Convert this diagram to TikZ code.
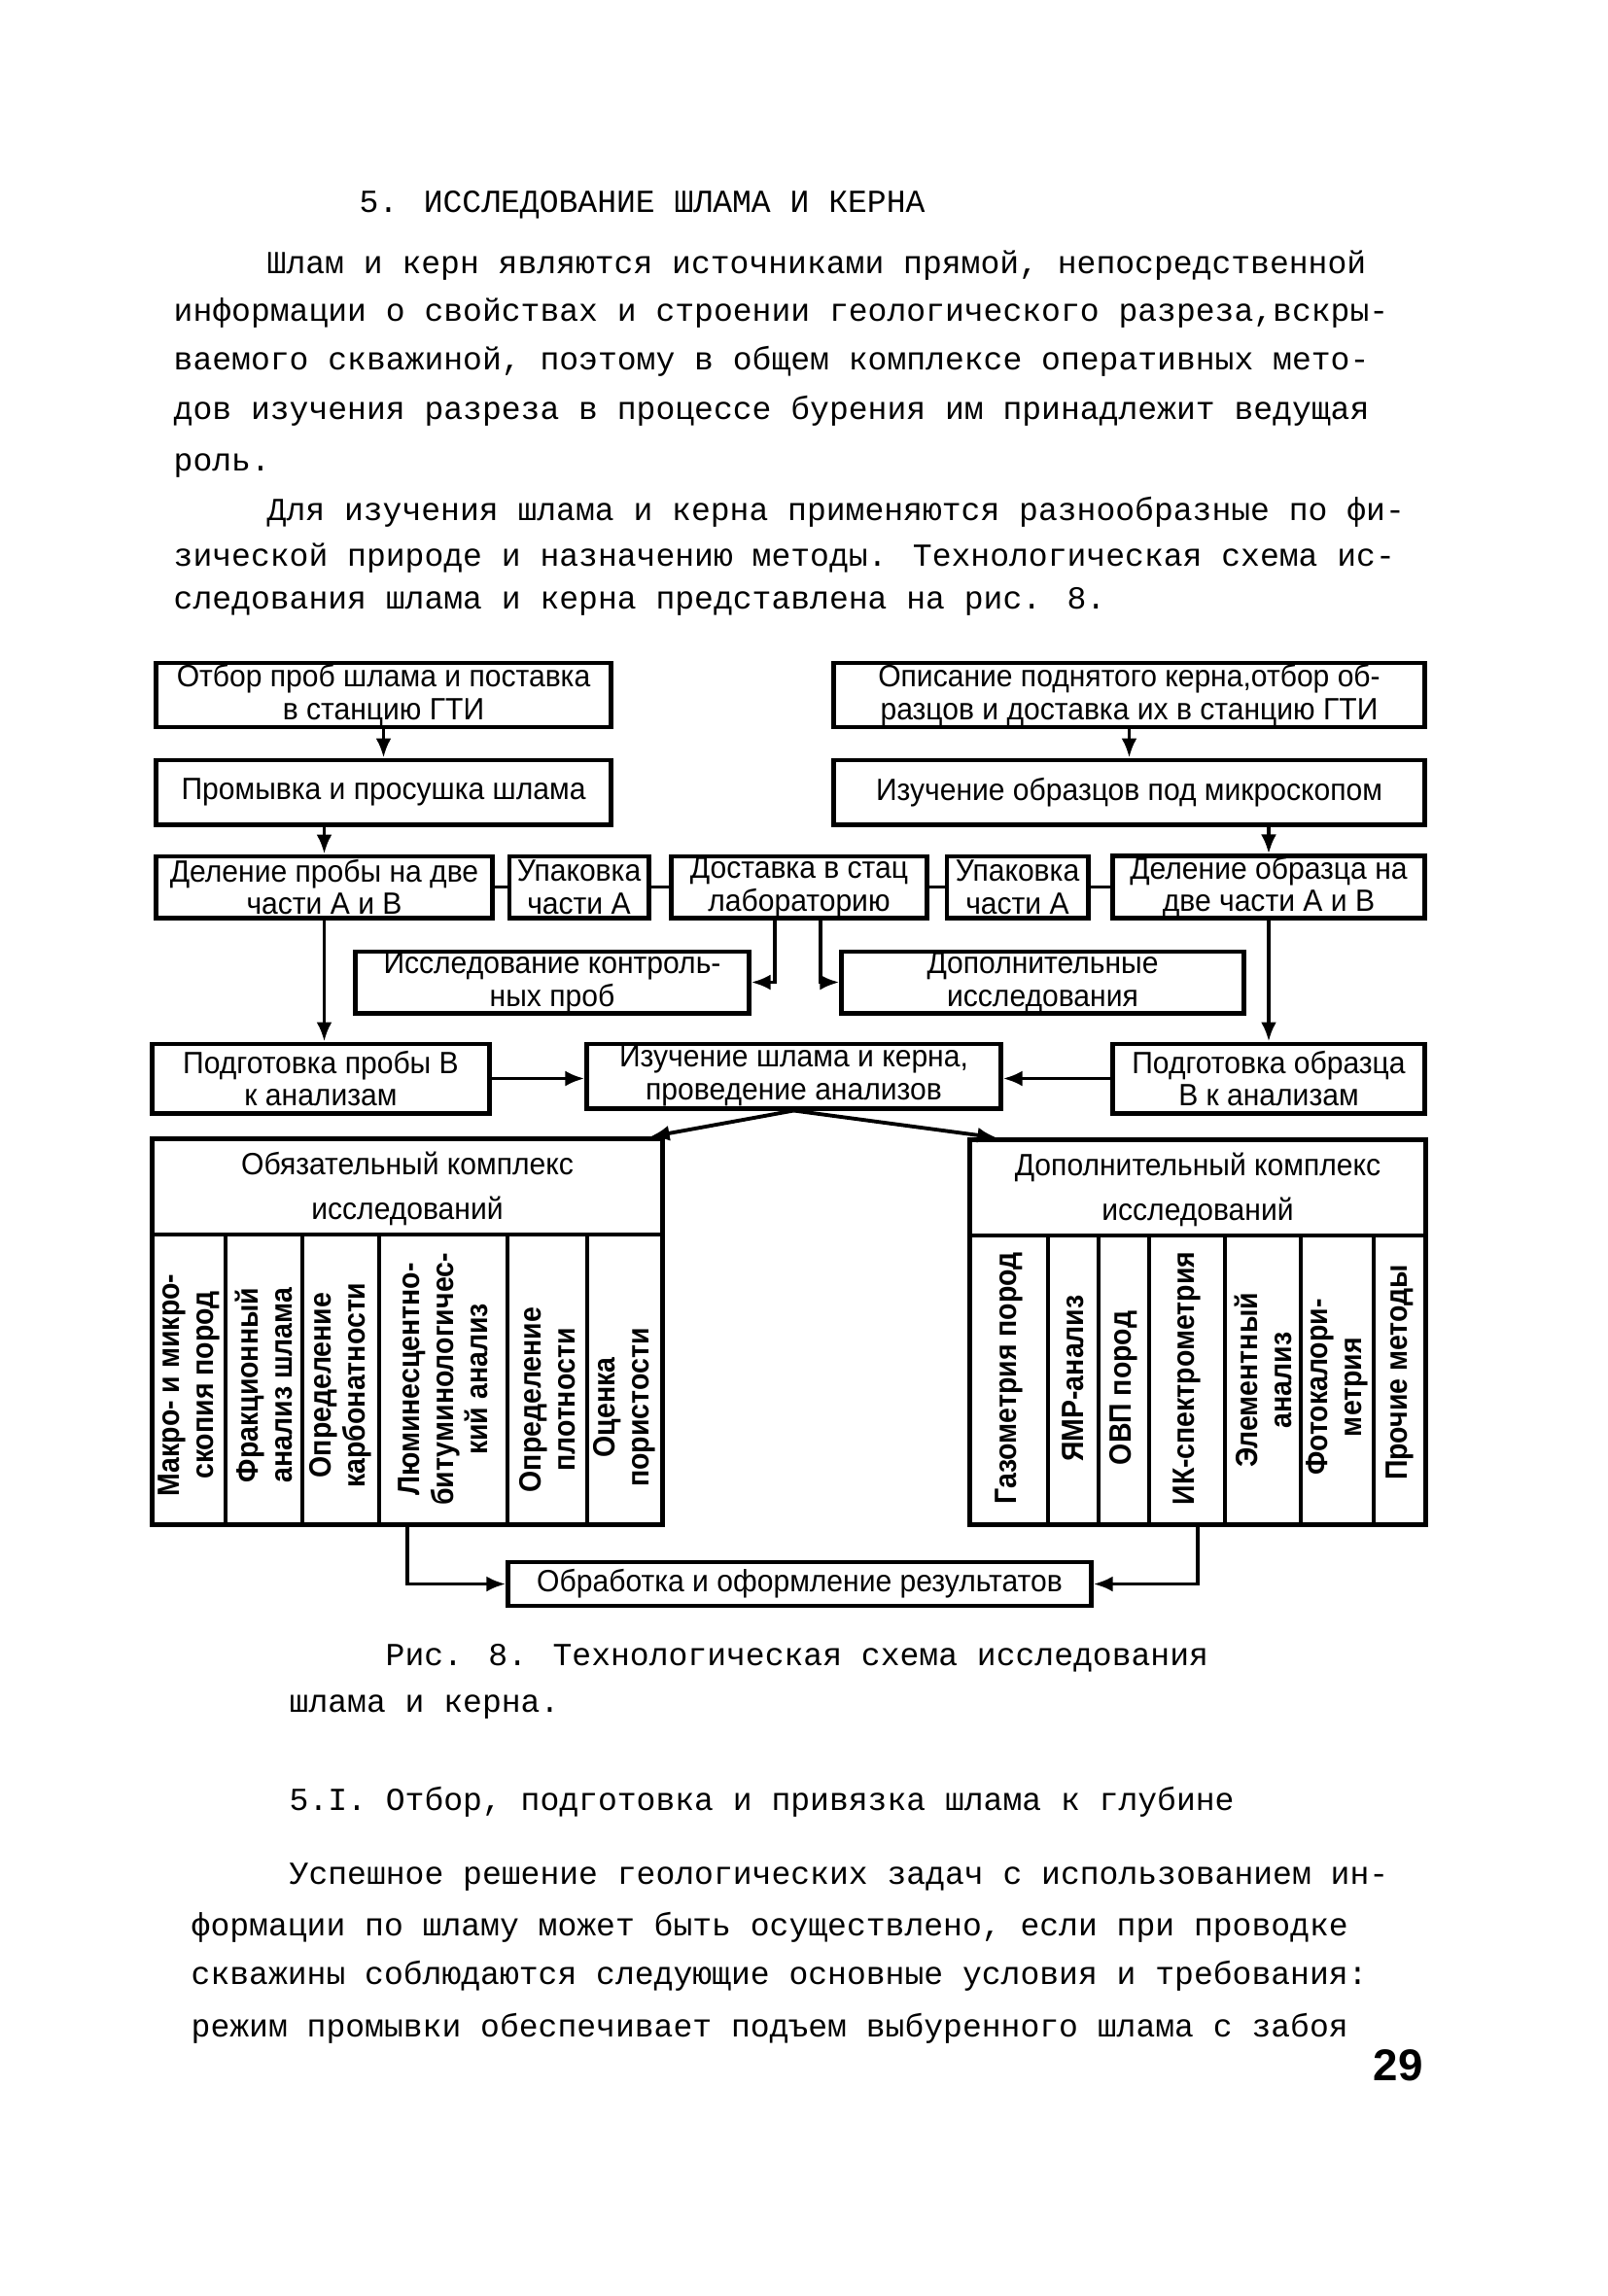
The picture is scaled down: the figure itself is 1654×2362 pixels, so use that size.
\documentclass[tikz,border=0pt]{standalone}
\usepackage{fontspec}
\setmainfont{Liberation Mono}
\newfontfamily\schemefont{Liberation Sans}[FakeStretch=0.95]
\newfontfamily\colfont{Liberation Sans}[FakeStretch=0.9]
\newfontfamily\pagefont{Liberation Sans}
\usetikzlibrary{arrows.meta}
\usetikzlibrary{calc}

\begin{document}
\begin{tikzpicture}[x=0.01cm,y=-0.01cm,
		box/.style={draw,line width=1.4pt,inner sep=0pt,align=center,
			font=\schemefont\fontsize{9pt}{9.6pt}\selectfont},
		title/.style={inner sep=0pt,align=center,
			font=\schemefont\fontsize{9pt}{13pt}\selectfont},
		coltext/.style={rotate=90,inner sep=0pt,align=center,
			font=\colfont\bfseries\fontsize{9pt}{10pt}\selectfont},
		sep/.style={line width=1.4pt},
		link/.style={line width=1.1pt},
		arr/.style={line width=1.1pt,-{Latex[length=2mm,width=1.6mm]}},
		txtline/.style={anchor=west,inner sep=0pt,
			font=\fontsize{9.4pt}{11pt}\selectfont}]
		
		% The page
		\useasboundingbox[fill=white] (0,0) rectangle (1654,2362);
		
		% Heading and opening text
		\node[txtline] (head) at (369,211) {5. ИССЛЕДОВАНИЕ ШЛАМА И КЕРНА};
		\node[txtline] (pa1) at (274,273) {Шлам и керн являются источниками прямой, непосредственной};
		\node[txtline] (pa2) at (178,322) {информации о свойствах и строении геологического разреза,вскры-};
		\node[txtline] (pa3) at (178,372) {ваемого скважиной, поэтому в общем комплексе оперативных мето-};
		\node[txtline] (pa4) at (178,423) {дов изучения разреза в процессе бурения им принадлежит ведущая};
		\node[txtline] (pa5) at (178,479) {роль.};
		\node[txtline] (pb1) at (274,527) {Для изучения шлама и керна применяются разнообразные по фи-};
		\node[txtline] (pb2) at (178,574) {зической природе и назначению методы. Технологическая схема ис-};
		\node[txtline] (pb3) at (178,619) {следования шлама и керна представлена на рис. 8.};
		
		% Sampling of cuttings and core
		\node[box,minimum width=4.67cm,minimum height=0.66cm] (otbor) at (394.5,715) {Отбор проб шлама и поставка\\в станцию ГТИ};
		\node[box,minimum width=6.07cm,minimum height=0.66cm] (opisanie) at (1161.5,715) {Описание поднятого керна,отбор об-\\разцов и доставка их в станцию ГТИ};
		\node[box,minimum width=4.67cm,minimum height=0.66cm] (promyvka) at (394.5,815) {Промывка и просушка шлама};
		\node[box,minimum width=6.07cm,minimum height=0.66cm] (mikroskop) at (1161.5,815) {Изучение образцов под микроскопом};
		
		% Division into parts A and B
		\node[box,minimum width=3.45cm,minimum height=0.63cm] (delProb) at (333.5,912.5) {Деление пробы на две\\части А и В};
		\node[box,minimum width=1.43cm,minimum height=0.63cm] (upakL) at (595.5,912.5) {Упаковка\\части А};
		\node[box,minimum width=2.62cm,minimum height=0.63cm] (dostavka) at (822,912.5) {Доставка в стац\\лабораторию};
		\node[box,minimum width=1.45cm,minimum height=0.63cm] (upakR) at (1046.5,912.5) {Упаковка\\части А};
		\node[box,minimum width=3.20cm,minimum height=0.63cm] (delObr) at (1305,912.5) {Деление образца на\\две части А и В};
		
		% Laboratory
		\node[box,minimum width=4.04cm,minimum height=0.63cm] (kontrol) at (568,1010.5) {Исследование контроль-\\ных проб};
		\node[box,minimum width=4.13cm,minimum height=0.63cm] (dopIssl) at (1072.5,1010.5) {Дополнительные\\исследования};
		
		% Preparation and analysis
		\node[box,minimum width=3.46cm,minimum height=0.71cm] (podgProb) at (330,1109.5) {Подготовка пробы В\\к анализам};
		\node[box,minimum width=4.25cm,minimum height=0.66cm] (izuch) at (816.5,1107) {Изучение шлама и керна,\\проведение анализов};
		\node[box,minimum width=3.20cm,minimum height=0.71cm] (podgObr) at (1305,1109.5) {Подготовка образца\\В к анализам};
		
		% Mandatory set of studies
		\node[box,minimum width=5.24cm,minimum height=3.96cm] (obyaz) at (419,1370) {};
		\node[title] (obyazTitle) at (419,1223) {Обязательный комплекс\\исследований};
		\draw[sep] (157,1270) -- (681,1270)
		(232,1270) -- (232,1568) (311,1270) -- (311,1568) (390,1270) -- (390,1568)
		(522,1270) -- (522,1568) (604,1270) -- (604,1568);
		\node[coltext] (makro) at (194.5,1425) {Макро- и микро-\\скопия пород};
		\node[coltext] (frakc) at (271.5,1425) {Фракционный\\анализ шлама};
		\node[coltext] (karb) at (350.5,1425) {Определение\\карбонатности};
		\node[coltext] (lbm) at (456,1419) {Люминесцентно-\\битуминологичес-\\кий анализ};
		\node[coltext] (plotn) at (563,1440) {Определение\\плотности};
		\node[coltext] (porist) at (642.5,1448) {Оценка\\пористости};
		
		% Additional set of studies
		\node[box,minimum width=4.68cm,minimum height=3.95cm] (dopKompl) at (1232,1370.5) {};
		\node[title] (dopTitle) at (1232,1224) {Дополнительный комплекс\\исследований};
		\draw[sep] (998,1271) -- (1466,1271)
		(1078,1271) -- (1078,1568) (1130,1271) -- (1130,1568) (1182,1271) -- (1182,1568)
		(1260,1271) -- (1260,1568) (1338,1271) -- (1338,1568) (1413,1271) -- (1413,1568);
		\node[coltext] (gaz) at (1038,1418) {Газометрия пород};
		\node[coltext] (yamr) at (1104,1418) {ЯМР-анализ};
		\node[coltext] (ovp) at (1156,1428) {ОВП пород};
		\node[coltext] (ik) at (1221,1418) {ИК-спектрометрия};
		\node[coltext] (elem) at (1299,1420) {Элементный\\анализ};
		\node[coltext] (foto) at (1375.5,1427) {Фотокалори-\\метрия};
		\node[coltext] (proch) at (1439.5,1412) {Прочие методы};
		
		% Results
		\node[box,minimum width=5.99cm,minimum height=0.45cm] (obrab) at (822.5,1629.5) {Обработка и оформление результатов};
		
		% Connections
		\draw[arr] (otbor) -- (promyvka);
		\draw[arr] (opisanie) -- (mikroskop);
		\draw[arr] (promyvka.south -| delProb.north) -- (delProb.north);
		\draw[arr] (mikroskop.south -| delObr.north) -- (delObr.north);
		\draw[link] (delProb) -- (upakL);
		\draw[link] (upakL) -- (dostavka);
		\draw[link] (dostavka) -- (upakR);
		\draw[link] (upakR) -- (delObr);
		\draw[arr] ([xshift=-0.25cm]dostavka.south) |- (kontrol.east);
		\draw[arr] ([xshift=0.22cm]dostavka.south) |- (dopIssl.west);
		\draw[arr] (delProb.south) -- (delProb.south |- podgProb.north);
		\draw[arr] (delObr) -- (podgObr);
		\draw[arr] (podgProb) -- (podgProb.east -| izuch.west);
		\draw[arr] (podgObr) -- (podgObr.west -| izuch.east);
		\draw[arr] (izuch.south) -- ([xshift=-0.15cm]obyaz.north east);
		\draw[arr] (izuch.south) -- ([xshift=0.3cm]dopKompl.north west);
		\draw[arr] (obyaz.south) |- (obrab.west);
		\draw[arr] (dopKompl.south) |- (obrab.east);
		
		% Caption and following text
		\node[txtline] (cap1) at (396,1706) {Рис. 8. Технологическая схема исследования};
		\node[txtline] (cap2) at (297,1756) {шлама и керна.};
		\node[txtline] (sub) at (297,1854) {5.I. Отбор, подготовка и привязка шлама к глубине};
		\node[txtline] (pc1) at (297,1931) {Успешное решение геологических задач с использованием ин-};
		\node[txtline] (pc2) at (196,1983) {формации по шламу может быть осуществлено, если при проводке};
		\node[txtline] (pc3) at (196,2033) {скважины соблюдаются следующие основные условия и требования:};
		\node[txtline] (pc4) at (196,2087) {режим промывки обеспечивает подъем выбуренного шлама с забоя};
		\node[inner sep=0pt,font=\pagefont\bfseries\fontsize{13pt}{13pt}\selectfont] (page) at (1438,2125) {29};
		
	\end{tikzpicture}
\end{document}
